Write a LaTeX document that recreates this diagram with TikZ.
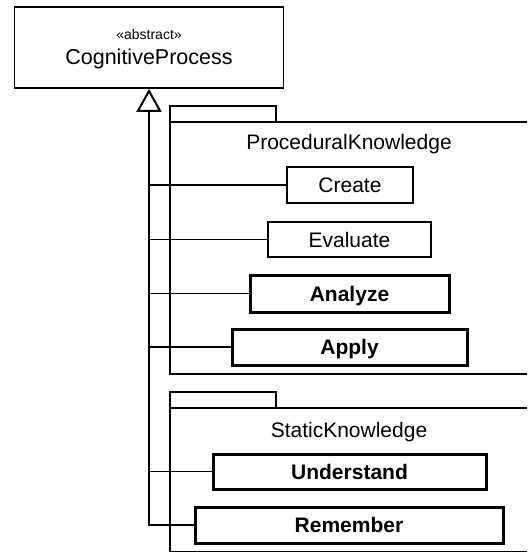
\documentclass[tikz,border=0pt]{standalone}
\usepackage{fontspec}
\setmainfont{Liberation Sans}
\usetikzlibrary{arrows.meta}

\tikzset{
  classbox/.style={draw, rectangle, line width=1.3pt, inner sep=0pt,
    font=\fontsize{21}{24}\selectfont, text height=15pt, text depth=0pt,
    minimum height=36pt},
  boldbox/.style={classbox, line width=3pt, font=\fontsize{21}{24}\selectfont\bfseries},
  pkgline/.style={line width=1.3pt},
  link/.style={line width=1.3pt},
  genline/.style={line width=2pt,
    -{Triangle[open, length=23pt, width=25pt, line width=2pt]}},
  pkglabel/.style={anchor=base, inner sep=0pt, font=\fontsize{21}{24}\selectfont}
}

\begin{document}
\begin{tikzpicture}[x=1pt, y=-1pt]
  \useasboundingbox (0,0) rectangle (527,553);

  % abstract superclass
  \node[draw, rectangle, line width=1.8pt, minimum width=269pt, minimum height=81pt,
        inner sep=0pt] (cp) at (149,47.5) {};
  \node[anchor=base, inner sep=0pt, font=\fontsize{14}{16}\selectfont] (stereo) at (149,40) {«abstract»};
  \node[anchor=base, inner sep=0pt, font=\fontsize{21.5}{24}\selectfont] (cpname) at (149,64.5) {CognitiveProcess};

  % package ProceduralKnowledge
  \draw[pkgline] (170,106) rectangle (276,122);
  \draw[pkgline] (527,122) -- (170,122) -- (170,374) -- (527,374);
  \node[pkglabel] (proc) at (349,150) {ProceduralKnowledge};

  % package StaticKnowledge
  \draw[pkgline] (170,392) rectangle (276,408);
  \draw[pkgline] (527,408) -- (170,408) -- (170,551.5) -- (527,551.5);
  \node[pkglabel] (stat) at (349,437) {StaticKnowledge};

  % subclasses
  \node[classbox, minimum width=126pt] (create)   at (350,185)   {Create};
  \node[classbox, minimum width=163pt, minimum height=35pt] (evaluate) at (349.5,239.5) {Evaluate};
  \node[boldbox,  minimum width=199pt, minimum height=37pt] (analyze)  at (349.5,293.5) {Analyze};
  \node[boldbox,  minimum width=235pt] (apply)    at (349.5,347)   {Apply};
  \node[boldbox,  minimum width=273pt, minimum height=35pt] (understand) at (349.5,471.5) {Understand};
  \node[boldbox,  minimum width=308pt] (remember) at (349,525)     {Remember};

  % generalisation tree
  \draw[genline] (remember.west) -| (cp.south);
  \foreach \n in {create, evaluate, analyze, apply, understand}
    \draw[link] (\n.west) -- (\n.west -| cp.south);
\end{tikzpicture}
\end{document}
